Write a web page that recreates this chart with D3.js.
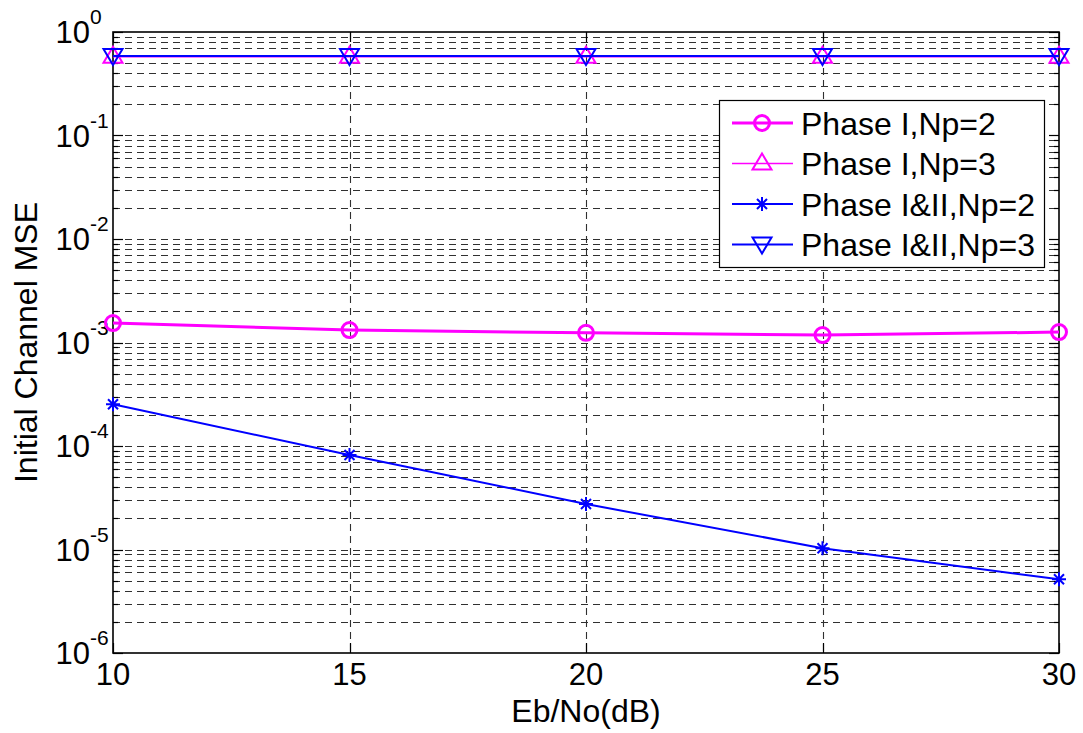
<!DOCTYPE html>
<html>
<head>
<meta charset="utf-8">
<script src="https://cdn.jsdelivr.net/npm/d3@7"></script>
<style>
  body { margin: 0; background: #fff; }
  text { font-family: "Liberation Sans", Arial, sans-serif; fill: #000; }
</style>
</head>
<body>
<script>
// data
var snr = [10, 15, 20, 25, 30];
var phase1Np2 = [1.54e-3, 1.32e-3, 1.24e-3, 1.18e-3, 1.26e-3];
var phase1Np3 = [0.578, 0.578, 0.578, 0.578, 0.578];
var phase12Np2 = [2.53e-4, 8.2e-5, 2.75e-5, 1.03e-5, 5.15e-6];
var phase12Np3 = [0.586, 0.586, 0.586, 0.586, 0.586];
var xTicks = [10, 15, 20, 25, 30];
var yDecades = [0, -1, -2, -3, -4, -5, -6];
var seriesNames = ["Phase I,Np=2", "Phase I,Np=3", "Phase I&II,Np=2", "Phase I&II,Np=3"];

var W = 1083, H = 733;
var m = {left: 113, top: 32, right: 1059, bottom: 653};

var svg = d3.select("body").append("svg").attr("width", W).attr("height", H);

var x = d3.scaleLinear().domain([10, 30]).range([m.left, m.right]);
var y = d3.scaleLog().domain([1e-6, 1]).range([m.bottom, m.top]);

// minor + major y values
var yMinor = [];
yDecades.slice(1).forEach(function(e) {
  for (var k = 2; k <= 9; k++) yMinor.push(k * Math.pow(10, e));
});
var yMajor = yDecades.map(function(e) { return Math.pow(10, e); });

var grid = svg.append("g").attr("stroke", "#303030").attr("stroke-width", 1.1)
  .attr("stroke-dasharray", "7,5").attr("fill", "none");

yMinor.concat(yMajor.slice(1, -1)).forEach(function(v) {
  grid.append("line").attr("x1", m.left).attr("x2", m.right)
    .attr("y1", Math.round(y(v)) + 0.5).attr("y2", Math.round(y(v)) + 0.5);
});
xTicks.slice(1, -1).forEach(function(v) {
  grid.append("line").attr("y1", m.top).attr("y2", m.bottom)
    .attr("x1", Math.round(x(v)) + 0.5).attr("x2", Math.round(x(v)) + 0.5);
});

// ticks inside the box
var ticks = svg.append("g").attr("stroke", "#000").attr("stroke-width", 1.2);
yMajor.forEach(function(v) {
  var yy = Math.round(y(v)) + 0.5;
  ticks.append("line").attr("x1", m.left).attr("x2", m.left + 10).attr("y1", yy).attr("y2", yy);
  ticks.append("line").attr("x1", m.right).attr("x2", m.right - 10).attr("y1", yy).attr("y2", yy);
});
yMinor.forEach(function(v) {
  var yy = Math.round(y(v)) + 0.5;
  ticks.append("line").attr("x1", m.left).attr("x2", m.left + 5).attr("y1", yy).attr("y2", yy);
  ticks.append("line").attr("x1", m.right).attr("x2", m.right - 5).attr("y1", yy).attr("y2", yy);
});
xTicks.forEach(function(v) {
  var xx = Math.round(x(v)) + 0.5;
  ticks.append("line").attr("x1", xx).attr("x2", xx).attr("y1", m.bottom).attr("y2", m.bottom - 10);
  ticks.append("line").attr("x1", xx).attr("x2", xx).attr("y1", m.top).attr("y2", m.top + 10);
});

// frame
svg.append("rect").attr("x", m.left).attr("y", m.top)
  .attr("width", m.right - m.left).attr("height", m.bottom - m.top)
  .attr("fill", "none").attr("stroke", "#000").attr("stroke-width", 1.6);

// tick labels
xTicks.forEach(function(v) {
  svg.append("text").attr("x", x(v)).attr("y", m.bottom + 32)
    .attr("text-anchor", "middle").style("font-size", "31px").text(v);
});
yDecades.forEach(function(e) {
  var yy = y(Math.pow(10, e));
  svg.append("text").attr("x", 90).attr("y", yy + 11)
    .attr("text-anchor", "end").style("font-size", "31px").text("10");
  svg.append("text").attr("x", 90).attr("y", yy - 8)
    .attr("text-anchor", "start").style("font-size", "21px").text(e);
});

// axis labels
svg.append("text").attr("x", (m.left + m.right) / 2).attr("y", 722)
  .attr("text-anchor", "middle").style("font-size", "32px").text("Eb/No(dB)");
svg.append("text").attr("transform", "translate(37," + ((m.top + m.bottom) / 2) + ") rotate(-90)")
  .attr("text-anchor", "middle").style("font-size", "32px").text("Initial Channel MSE");

// markers
function circleM(g) { g.append("circle").attr("r", 7.5).attr("fill", "none"); }
function triUp(g) { g.append("path").attr("d", "M0,-10L9.5,6L-9.5,6Z").attr("fill", "none"); }
function triDown(g) { g.append("path").attr("d", "M0,9L9.5,-7L-9.5,-7Z").attr("fill", "none"); }
function star(g) {
  g.append("path").attr("d", "M-7,0L7,0M0,-7L0,7M-5,-5L5,5M-5,5L5,-5").attr("fill", "none");
}

var series = [
  {name: seriesNames[0], vals: phase1Np2, color: "#ff00ff", lw: 3, mw: 3, marker: circleM},
  {name: seriesNames[1], vals: phase1Np3, color: "#ff00ff", lw: 1.5, mw: 2, marker: triUp},
  {name: seriesNames[2], vals: phase12Np2, color: "#0000ff", lw: 2, mw: 2, marker: star},
  {name: seriesNames[3], vals: phase12Np3, color: "#0000ff", lw: 2, mw: 2, marker: triDown}
];

var line = d3.line().x(function(d) { return x(d[0]); }).y(function(d) { return y(d[1]); });

series.forEach(function(s) {
  var pts = snr.map(function(v, i) { return [v, s.vals[i]]; });
  svg.append("path").attr("d", line(pts)).attr("fill", "none")
    .attr("stroke", s.color).attr("stroke-width", s.lw);
  pts.forEach(function(p) {
    var g = svg.append("g").attr("transform", "translate(" + x(p[0]) + "," + y(p[1]) + ")")
      .attr("stroke", s.color).attr("stroke-width", s.mw);
    s.marker(g);
  });
});

// legend
var lg = svg.append("g");
lg.append("rect").attr("x", 719.5).attr("y", 100.5).attr("width", 325).attr("height", 167)
  .attr("fill", "#fff").attr("stroke", "#000").attr("stroke-width", 1.2);
series.forEach(function(s, i) {
  var yy = 123 + i * 40.5;
  lg.append("line").attr("x1", 732).attr("x2", 793).attr("y1", yy).attr("y2", yy)
    .attr("stroke", s.color).attr("stroke-width", s.lw);
  var g = lg.append("g").attr("transform", "translate(762," + yy + ")")
    .attr("stroke", s.color).attr("stroke-width", s.mw);
  s.marker(g);
  lg.append("text").attr("x", 801).attr("y", yy + 11.5).style("font-size", "32px").text(s.name);
});
</script>
</body>
</html>
